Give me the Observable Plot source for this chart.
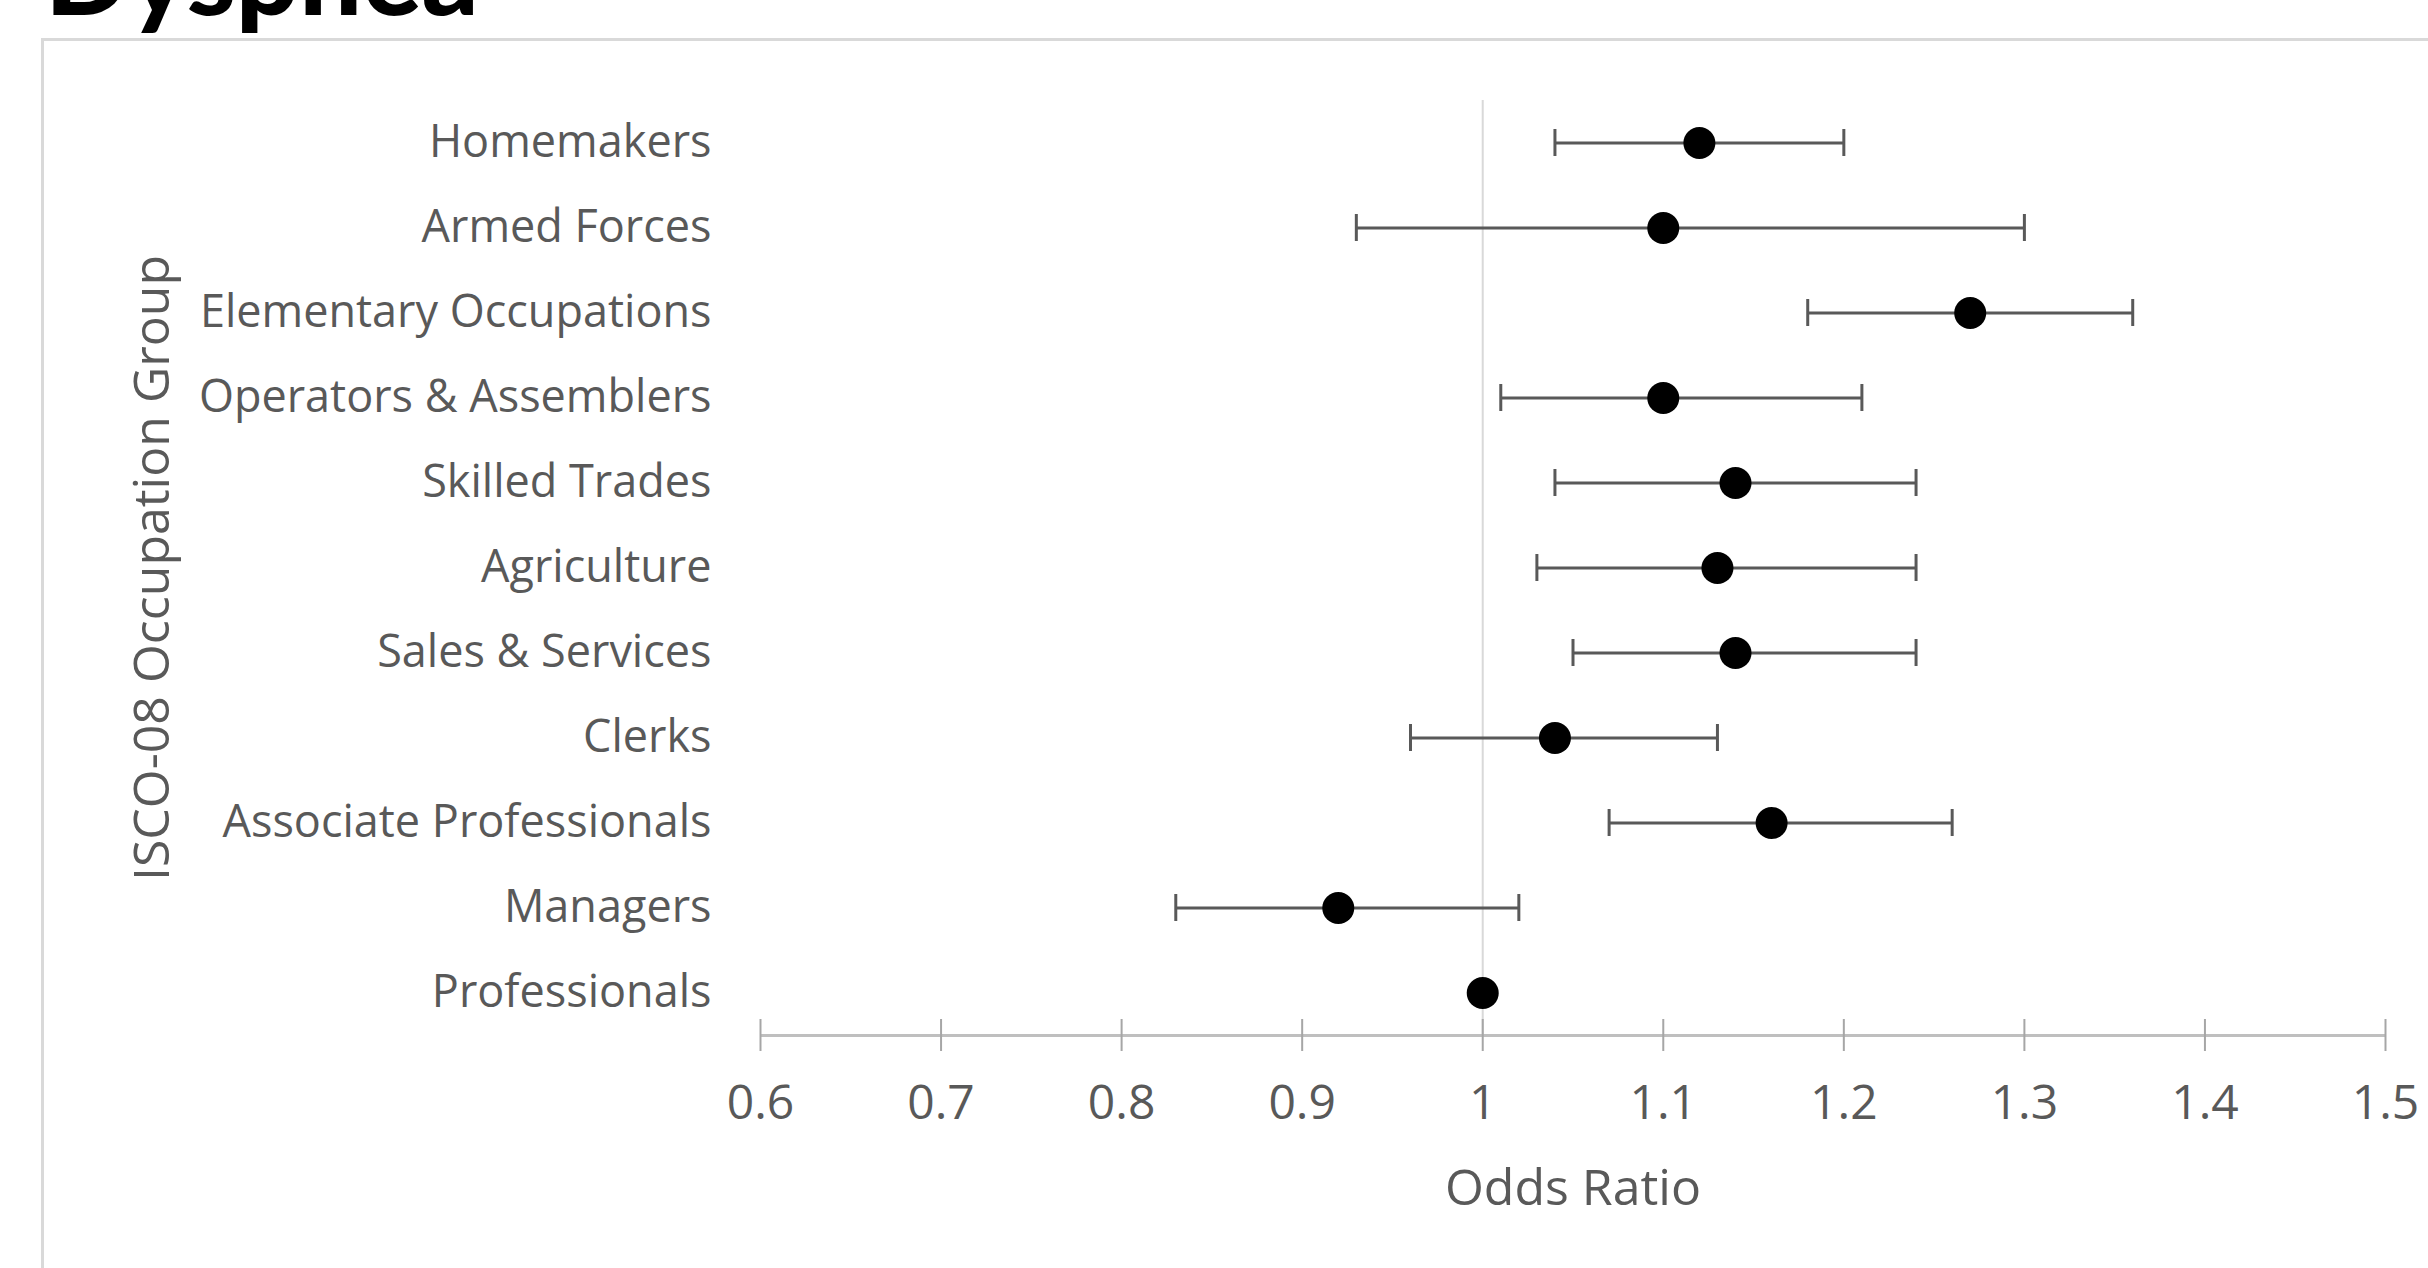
<!DOCTYPE html>
<html>
<head>
<meta charset="utf-8">
<script src="https://cdn.jsdelivr.net/npm/d3@7"></script>
<script src="https://cdn.jsdelivr.net/npm/@observablehq/plot@0.6"></script>
<style>
  html, body { margin: 0; padding: 0; background: #fff; overflow: hidden; }
  #wrap { position: relative; width: 2428px; height: 1268px; overflow: hidden; }
  #title { position: absolute; left: 45px; top: -83px; font-family: Lato, sans-serif; font-weight: 900; font-size: 111px; line-height: 111px; color: #000; white-space: nowrap; }
  #box { position: absolute; left: 41px; top: 38px; width: 2440px; height: 1300px; border: 3px solid #d9d9d9; box-sizing: border-box; }
  #chart { position: absolute; left: 0; top: 0; }
</style>
</head>
<body>
<div id="wrap">
  <div id="box"></div>
  <div id="chart"></div>
  <div id="title">Dyspnea</div>
</div>
<script>
const categories = ["Homemakers", "Armed Forces", "Elementary Occupations", "Operators & Assemblers", "Skilled Trades", "Agriculture", "Sales & Services", "Clerks", "Associate Professionals", "Managers", "Professionals"];
const oddsRatio = [1.12, 1.10, 1.27, 1.10, 1.14, 1.13, 1.14, 1.04, 1.16, 0.92, 1.00];
const ciLow =     [1.04, 0.93, 1.18, 1.01, 1.04, 1.03, 1.05, 0.96, 1.07, 0.83, null];
const ciHigh =    [1.20, 1.30, 1.36, 1.21, 1.24, 1.24, 1.24, 1.13, 1.26, 1.02, null];
const xTicks = [0.6, 0.7, 0.8, 0.9, 1, 1.1, 1.2, 1.3, 1.4, 1.5];
const xLabel = "Odds Ratio";
const yLabel = "ISCO-08 Occupation Group";

const rows = categories.map((c, i) => ({cat: c, or: oddsRatio[i], lo: ciLow[i], hi: ciHigh[i]}));
const bars = rows.filter(d => d.lo != null && d.hi != null);

const textColor = "#595959";
const font = "'Open Sans', sans-serif";
const bandStep = 85;

const chart = Plot.plot({
  width: 2428,
  height: 1268,
  marginLeft: 760,
  marginRight: 43,
  marginTop: 100,
  marginBottom: 233,
  style: {fontFamily: font, color: textColor, background: "transparent", overflow: "visible"},
  x: {domain: [xTicks[0], xTicks[xTicks.length - 1]]},
  y: {type: "band", domain: categories, padding: 0},
  marks: [
    Plot.ruleX([1], {x: d => d, stroke: "#d9d9d9", strokeWidth: 2}),
    Plot.ruleY([categories[categories.length - 1]], {y: d => d, dy: bandStep / 2, x1: xTicks[0], x2: xTicks[xTicks.length - 1], stroke: "#bfbfbf", strokeWidth: 3}),
    Plot.ruleX(xTicks, {x: d => d, insetTop: 919, insetBottom: -16, stroke: "#a6a6a6", strokeWidth: 2}),
    Plot.axisX({ticks: xTicks, tickFormat: d => String(d), tickSize: 0, tickPadding: 49, fontSize: 48, fill: textColor, label: null}),
    Plot.axisY({tickSize: 0, tickPadding: 49, fontSize: 45, fill: textColor, label: null}),
    Plot.ruleY(bars, {y: "cat", x1: "lo", x2: "hi", stroke: "#595959", strokeWidth: 3}),
    Plot.tickX(bars, {y: "cat", x: "lo", stroke: "#595959", strokeWidth: 3, insetTop: 29, insetBottom: 29}),
    Plot.tickX(bars, {y: "cat", x: "hi", stroke: "#595959", strokeWidth: 3, insetTop: 29, insetBottom: 29}),
    Plot.dot(rows, {x: "or", y: "cat", r: 16, fill: "black", stroke: "none"}),
    Plot.text([xLabel], {frameAnchor: "bottom", dy: 153, lineAnchor: "middle", fontSize: 50, fill: textColor, text: d => d}),
    Plot.text([yLabel], {frameAnchor: "left", dx: -608, rotate: -90, lineAnchor: "middle", textAnchor: "middle", fontSize: 50, fill: textColor, text: d => d})
  ]
});
document.getElementById("chart").appendChild(chart);
</script>
</body>
</html>
